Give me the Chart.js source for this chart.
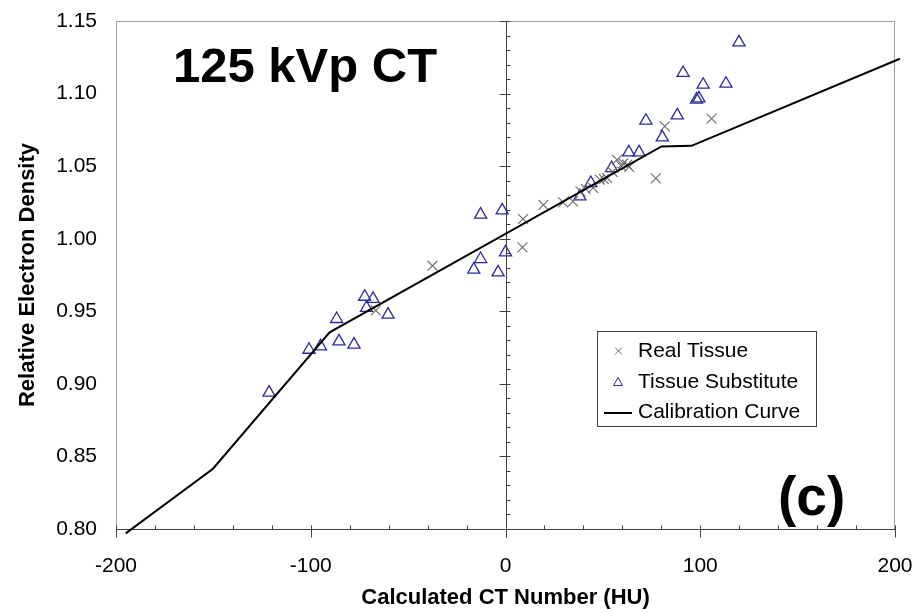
<!DOCTYPE html>
<html>
<head>
<meta charset="utf-8">
<script src="https://cdn.jsdelivr.net/npm/chart.js@4.4.1/dist/chart.umd.min.js"></script>
<style>
  html, body { margin: 0; padding: 0; background: #fff; }
  #wrap { width: 919px; height: 613px; }
</style>
</head>
<body>
<div id="wrap"><canvas id="ctChart" width="919" height="613"></canvas></div>
<script>
// real tissue (x markers)
const realX = [-66.6, -37.5, 8.7, 9.0, 19.5, 29.6, 34.7, 38.5, 41.2, 45.0, 48.4, 50.5, 52.2, 55.0, 57.3, 59.6, 60.5, 62.5, 63.5, 77.2, 81.8, 105.8];
const realY = [0.9506, 0.9814, 0.994, 1.0136, 1.0233, 1.025, 1.0257, 1.0326, 1.0343, 1.035, 1.0407, 1.0411, 1.0418, 1.046, 1.0544, 1.0498, 1.052, 1.051, 1.0494, 1.0416, 1.0774, 1.0827];

// tissue substitutes (triangles)
const subX = [-121.4, -100.9, -95.0, -86.7, -85.5, -77.8, -72.3, -71.4, -68.0, -60.3, -16.3, -12.8, -12.8, -3.8, -1.7, 0.0, 38.2, 43.8, 54.5, 63.3, 68.6, 72.1, 80.5, 88.2, 91.2, 98.1, 99.3, 101.5, 113.2, 119.9];
const subY = [0.894, 0.9235, 0.9258, 0.9447, 0.9293, 0.927, 0.960, 0.9523, 0.9585, 0.9477, 0.9787, 0.986, 1.0166, 0.9768, 1.0195, 0.9906, 1.0292, 1.0384, 1.0487, 1.0595, 1.0595, 1.0813, 1.0698, 1.085, 1.1142, 1.0958, 1.0967, 1.1061, 1.1068, 1.1353];

// calibration curve vertices
const curveX = [-195, -150.2, -90.3, 80.1, 95.5, 202.5];
const curveY = [0.797, 0.8415, 0.9355, 1.0636, 1.064, 1.124];

// axis ticks
const xTicks = [-200, -100, 0, 100, 200];
const yTicks = [0.80, 0.85, 0.90, 0.95, 1.00, 1.05, 1.10, 1.15];

const FONT = "'Liberation Sans', Arial, sans-serif";
const AXIS_COLOR = '#404040';

function pts(xs, ys) {
  return xs.map((x, i) => ({ x: x, y: ys[i] }));
}

// frame, axis at x=0 and tick marks
const axesPlugin = {
  id: 'axesPlugin',
  beforeDatasetsDraw(chart) {
    const ctx = chart.ctx;
    const a = chart.chartArea;
    const sx = chart.scales.x, sy = chart.scales.y;
    ctx.save();
    ctx.lineWidth = 1;
    // grey frame on left, top, right
    ctx.strokeStyle = '#a0a0a0';
    ctx.beginPath();
    ctx.moveTo(a.left + 0.5, a.bottom);
    ctx.lineTo(a.left + 0.5, a.top + 0.5);
    ctx.lineTo(a.right - 0.5, a.top + 0.5);
    ctx.lineTo(a.right - 0.5, a.bottom);
    ctx.stroke();

    ctx.strokeStyle = AXIS_COLOR;
    const yb = Math.round(a.bottom) + 0.5;
    ctx.beginPath();
    ctx.moveTo(a.left, yb);
    ctx.lineTo(a.right, yb);
    // x ticks: major cross, minor inside
    for (let v = -200; v <= 200; v += 20) {
      const px = Math.round(sx.getPixelForValue(v)) + 0.5;
      const major = v % 100 === 0;
      ctx.moveTo(px, yb - 4);
      ctx.lineTo(px, major ? yb + 8 : yb);
    }
    // vertical axis at x = 0
    const x0 = Math.round(sx.getPixelForValue(0)) + 0.5;
    ctx.moveTo(x0, a.top);
    ctx.lineTo(x0, yb + 8);
    for (let i = 0; i <= 35; i++) {
      const v = 0.80 + i * 0.01;
      const py = Math.round(sy.getPixelForValue(v)) + 0.5;
      const major = i % 5 === 0;
      ctx.moveTo(major ? x0 - 7 : x0, py);
      ctx.lineTo(x0 + 4, py);
    }
    ctx.stroke();
    ctx.restore();
  },
  afterDraw(chart) {
    const ctx = chart.ctx;
    ctx.save();
    // panel texts
    ctx.fillStyle = '#000';
    ctx.textBaseline = 'alphabetic';
    ctx.textAlign = 'left';
    ctx.font = 'bold 49px ' + FONT;
    ctx.fillText('125 kVp CT', 173, 82);
    ctx.font = 'bold 55px ' + FONT;
    ctx.fillText('(c)', 778, 515);

    // legend box
    ctx.fillStyle = '#fff';
    ctx.fillRect(597.5, 331.5, 219, 95);
    ctx.strokeStyle = AXIS_COLOR;
    ctx.lineWidth = 1;
    ctx.strokeRect(597.5, 331.5, 219, 95);

    const rows = [351, 382, 412];
    const labels = chart.data.datasets.map(d => d.label);
    // x marker
    ctx.strokeStyle = '#6b6b6b';
    ctx.lineWidth = 1;
    ctx.beginPath();
    ctx.moveTo(615, rows[0] - 3.5); ctx.lineTo(622, rows[0] + 3.5);
    ctx.moveTo(622, rows[0] - 3.5); ctx.lineTo(615, rows[0] + 3.5);
    ctx.stroke();
    // triangle marker
    ctx.strokeStyle = '#2b2b9b';
    ctx.beginPath();
    ctx.moveTo(618, rows[1] - 4.5);
    ctx.lineTo(622.5, rows[1] + 3.5);
    ctx.lineTo(613.5, rows[1] + 3.5);
    ctx.closePath();
    ctx.stroke();
    // line sample
    ctx.strokeStyle = '#000';
    ctx.lineWidth = 2;
    ctx.beginPath();
    ctx.moveTo(604, rows[2] + 1); ctx.lineTo(632, rows[2] + 1);
    ctx.stroke();

    ctx.fillStyle = '#000';
    ctx.font = '21px ' + FONT;
    ctx.textBaseline = 'middle';
    labels.forEach((t, i) => ctx.fillText(t, 638, rows[i]));
    ctx.restore();
  }
};

new Chart(document.getElementById('ctChart'), {
  type: 'scatter',
  data: {
    datasets: [
      {
        label: 'Real Tissue',
        data: pts(realX, realY),
        pointStyle: 'crossRot',
        pointRadius: 7,
        pointHoverRadius: 7,
        borderColor: '#6b6b6b',
        borderWidth: 1.1,
        order: 2
      },
      {
        label: 'Tissue Substitute',
        data: pts(subX, subY),
        pointStyle: 'triangle',
        pointRadius: 7,
        pointHoverRadius: 7,
        borderColor: '#2b2b9b',
        backgroundColor: 'rgba(0,0,0,0)',
        borderWidth: 1.3,
        order: 3
      },
      {
        label: 'Calibration Curve',
        data: pts(curveX, curveY),
        showLine: true,
        borderColor: '#000',
        borderWidth: 2,
        pointRadius: 0,
        pointHoverRadius: 0,
        tension: 0,
        clip: false,
        order: 1
      }
    ]
  },
  options: {
    responsive: false,
    animation: false,
    events: [],
    layout: { padding: { top: 21, right: 24, left: 0, bottom: 0 } },
    plugins: {
      legend: { display: false },
      tooltip: { enabled: false }
    },
    scales: {
      x: {
        type: 'linear',
        min: -200,
        max: 200,
        afterBuildTicks: s => { s.ticks = xTicks.map(v => ({ value: v })); },
        afterFit: s => { s.height = 84; s.paddingLeft = 0; s.paddingRight = 0; },
        grid: { display: false, drawTicks: false },
        border: { display: false },
        ticks: {
          padding: 25,
          color: '#000',
          maxRotation: 0,
          font: { family: FONT, size: 21 },
          callback: v => String(v)
        },
        title: {
          display: true,
          text: 'Calculated CT Number (HU)',
          color: '#000',
          font: { family: FONT, size: 22, weight: 'bold' },
          padding: { top: 0, bottom: 2 }
        }
      },
      y: {
        type: 'linear',
        min: 0.80,
        max: 1.15,
        afterBuildTicks: s => { s.ticks = yTicks.map(v => ({ value: v })); },
        afterFit: s => { s.width = 116; s.paddingTop = 0; s.paddingBottom = 0; },
        grid: { display: false, drawTicks: false },
        border: { display: false },
        ticks: {
          padding: 19,
          color: '#000',
          font: { family: FONT, size: 21 },
          callback: v => v.toFixed(2)
        },
        title: {
          display: true,
          text: 'Relative Electron Density',
          color: '#000',
          font: { family: FONT, size: 22, weight: 'bold' },
          padding: { top: 15, bottom: 0 }
        }
      }
    }
  },
  plugins: [axesPlugin]
});
</script>
</body>
</html>
